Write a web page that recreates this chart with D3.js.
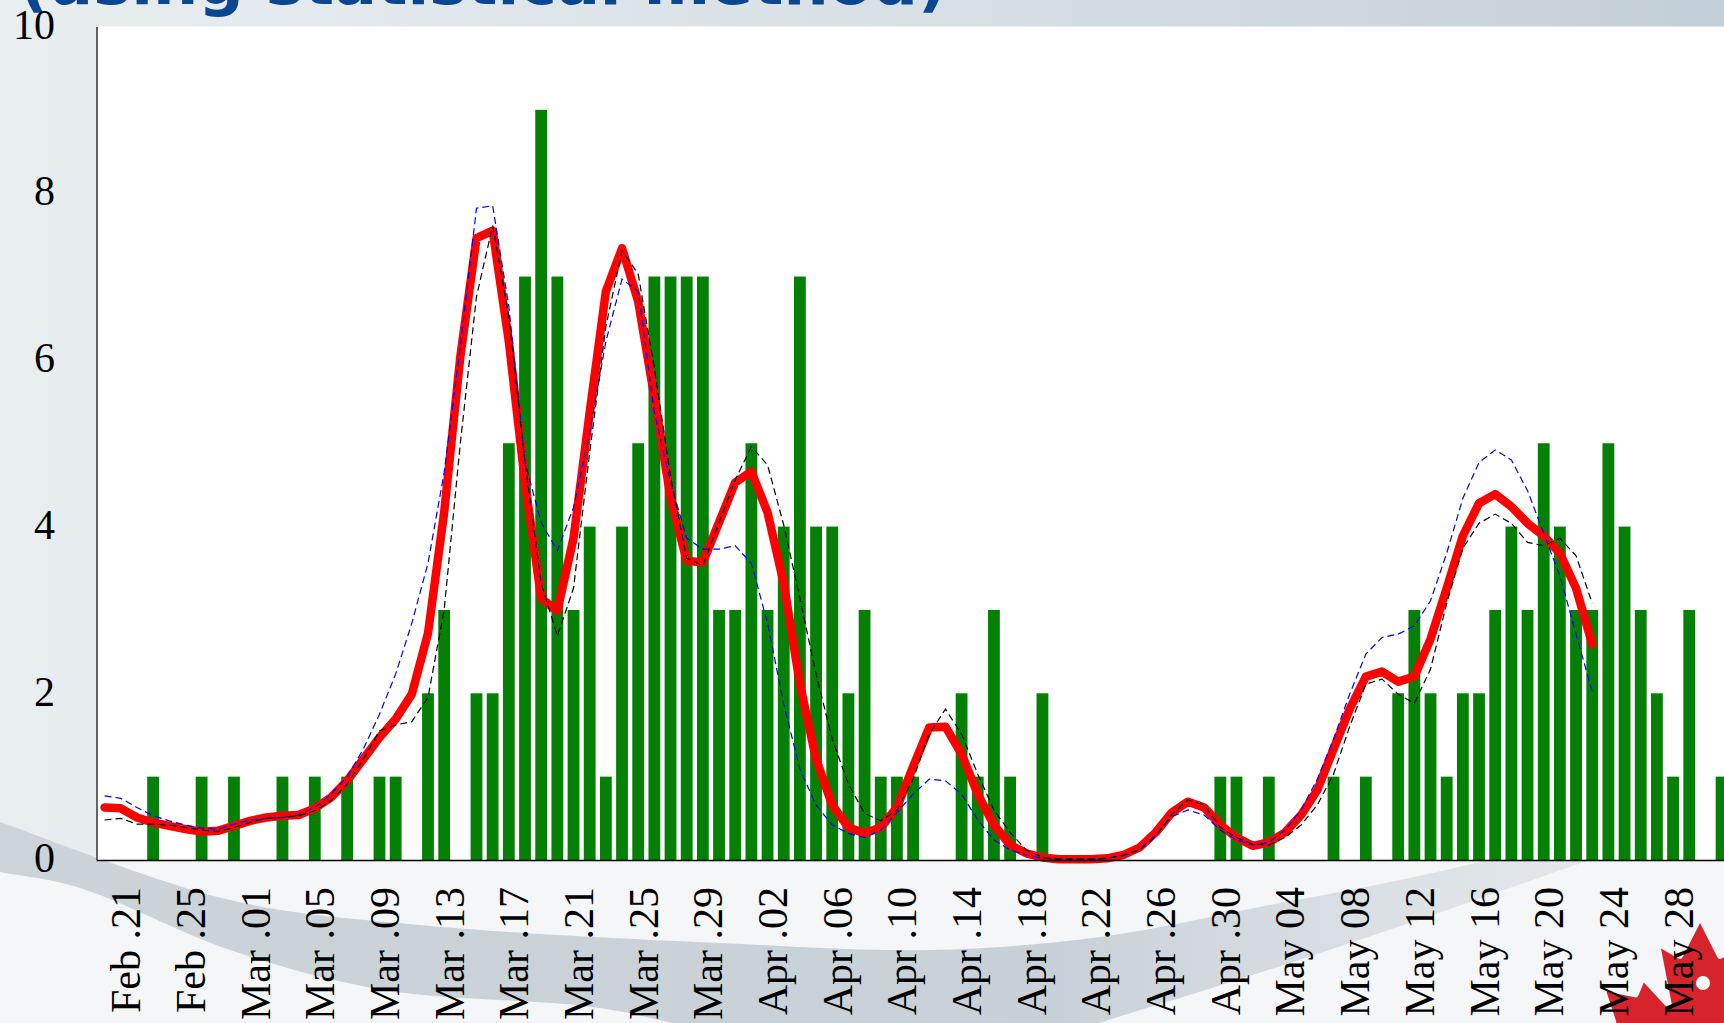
<!DOCTYPE html>
<html>
<head>
<meta charset="utf-8">
<script src="https://cdn.jsdelivr.net/npm/d3@7"></script>
<style>
html,body{margin:0;padding:0;overflow:hidden;background:#ffffff;}
</style>
</head>
<body>
<svg id="chart" width="1724" height="1023"></svg>
<script>
// ---------------- DATA ----------------
// daily counts, day index 0..100 (bars)
const dailyCounts = [
  0,0,0,1,0,0,1,0,1,0,
  0,1,0,1,0,1,0,1,1,0,
  2,3,0,2,2,5,7,9,7,3,
  4,1,4,5,7,7,7,7,3,3,
  5,3,4,7,4,4,2,3,1,1,
  1,0,0,2,1,3,1,0,2,0,
  0,0,0,0,0,0,0,0,0,1,
  1,0,1,0,0,0,1,0,1,0,
  2,3,2,1,2,2,3,4,3,5,
  4,3,3,5,4,3,2,1,3,0,
  1
];
// smoothed estimate (red, thick), day index 0..92
const estimate = [
  0.63,0.62,0.51,0.45,0.41,0.37,0.34,0.35,0.41,0.47,
  0.51,0.53,0.54,0.62,0.75,0.95,1.21,1.47,1.69,1.99,
  2.72,4.17,6.04,7.46,7.55,6.22,4.53,3.14,2.99,3.86,
  5.37,6.82,7.34,6.70,5.55,4.35,3.59,3.57,4.05,4.53,
  4.66,4.17,3.32,2.11,1.21,0.66,0.39,0.32,0.39,0.63,
  1.12,1.59,1.60,1.27,0.79,0.42,0.18,0.08,0.03,0.01,
  0.01,0.01,0.02,0.06,0.15,0.33,0.57,0.70,0.63,0.42,
  0.27,0.17,0.21,0.33,0.54,0.84,1.33,1.81,2.20,2.26,
  2.14,2.20,2.65,3.26,3.89,4.28,4.39,4.24,4.04,3.89,
  3.68,3.26,2.59
];
// blue dashed series
const seriesBlue = [
  0.77,0.74,0.63,0.53,0.47,0.42,0.38,0.37,0.43,0.48,
  0.50,0.51,0.54,0.63,0.79,1.00,1.33,1.75,2.23,2.84,
  3.56,4.65,6.16,7.82,7.85,6.64,4.77,4.05,3.71,4.23,
  5.13,6.22,6.97,6.82,5.37,4.53,3.86,3.73,3.73,3.77,
  3.56,2.84,1.87,1.09,0.66,0.42,0.32,0.27,0.36,0.57,
  0.79,0.97,0.95,0.79,0.48,0.24,0.12,0.06,0.02,0.01,
  0.01,0.01,0.02,0.05,0.13,0.30,0.52,0.60,0.54,0.36,
  0.24,0.18,0.21,0.36,0.60,0.97,1.45,1.99,2.47,2.67,
  2.71,2.81,3.11,3.68,4.34,4.77,4.92,4.80,4.43,3.92,
  3.41,2.71,2.02
];
// black dashed series
const seriesBlack = [
  0.48,0.50,0.43,0.43,0.42,0.39,0.36,0.34,0.39,0.45,
  0.50,0.51,0.53,0.59,0.71,0.91,1.21,1.55,1.62,1.66,
  1.95,3.00,5.00,6.76,7.61,6.52,4.77,3.32,2.69,3.26,
  4.89,6.40,7.31,7.03,5.90,4.60,3.62,3.53,4.05,4.56,
  4.96,4.74,4.02,3.14,2.23,1.45,0.91,0.56,0.47,0.60,
  0.97,1.51,1.81,1.51,1.03,0.60,0.33,0.12,0.03,0.01,
  0.01,0.01,0.02,0.06,0.12,0.28,0.55,0.72,0.66,0.39,
  0.27,0.19,0.18,0.27,0.42,0.66,1.03,1.60,2.11,2.17,
  1.99,1.88,2.29,3.08,3.74,4.04,4.15,4.04,3.81,3.77,
  3.86,3.65,3.08
];
const tickIndex = [1,5,9,13,17,21,25,29,33,37,41,45,49,53,57,61,65,69,73,77,81,85,89,93,97];
const tickLabels = ["Feb .21","Feb .25","Mar .01","Mar .05","Mar .09","Mar .13","Mar .17","Mar .21",
  "Mar .25","Mar .29","Apr .02","Apr .06","Apr .10","Apr .14","Apr .18","Apr .22","Apr .26",
  "Apr .30","May 04","May 08","May 12","May 16","May 20","May 24","May 28"];
const yTicks = [0,2,4,6,8,10];
const titleText = "(using statistical method)";

// ---------------- LAYOUT ----------------
const W = 1724, H = 1023;
const svg = d3.select("#chart");
const x = d3.scaleLinear().domain([-0.5, 100.3]).range([96.5, 96.5 + 100.8 * 16.17]);
const y = d3.scaleLinear().domain([0, 10]).range([860, 26.5]);

// ---------------- BACKGROUND ----------------
const defs = svg.append("defs");
const bg = defs.append("linearGradient").attr("id","bg").attr("x1",0).attr("x2",1).attr("y1",0).attr("y2",0);
bg.append("stop").attr("offset","0").attr("stop-color","#e9eef0");
bg.append("stop").attr("offset","0.5").attr("stop-color","#d9e1e6");
bg.append("stop").attr("offset","1").attr("stop-color","#c3cfd8");
const bandG = defs.append("linearGradient").attr("id","band").attr("x1",0).attr("x2",1).attr("y1",0).attr("y2",0);
bandG.append("stop").attr("offset","0").attr("stop-color","#ccd4da");
bandG.append("stop").attr("offset","0.6").attr("stop-color","#c9d1d8");
bandG.append("stop").attr("offset","0.8").attr("stop-color","#dde2e6");
bandG.append("stop").attr("offset","1").attr("stop-color","#eceef0");

svg.append("rect").attr("width",W).attr("height",H).attr("fill","url(#bg)");
svg.append("rect").attr("x",0).attr("y",860).attr("width",W).attr("height",H-860).attr("fill","#f5f6f7");

const bandPts = [
  [-20,815],[0,822],[230,900],[420,925],[720,943],[930,950],[1100,937],[1280,903],[1400,880],[1550,845],[1724,800],[1780,785],
  [1780,800],[1724,815],[1590,860],[1380,933],[1150,1007],[950,1060],[750,1040],[600,1008],[383,990],[230,950],[77,887],[0,872],[-20,868]
];
svg.append("path")
  .attr("d", d3.line().curve(d3.curveCatmullRomClosed)(bandPts))
  .attr("fill","url(#band)");

// title (mostly above the visible area)
svg.append("text")
  .attr("x",19).attr("y",4)
  .attr("font-family","'DejaVu Sans', Verdana, sans-serif")
  .attr("font-weight","bold")
  .attr("font-size",62)
  .attr("textLength",928).attr("lengthAdjust","spacingAndGlyphs")
  .attr("fill","#0b4690")
  .text(titleText);

// maple leaf decoration
const leaf = svg.append("g").attr("transform","translate(1700,1027) scale(0.052)");
leaf.append("path")
  .attr("fill","#d7232b")
  .attr("d","m-90 2030 45-863a95 95 0 0 0-111-98l-859 151 116-320a65 65 0 0 0-20-73l-941-762 212-99a65 65 0 0 0 34-79l-186-572 542 115a65 65 0 0 0 73-38l105-247 423 454a65 65 0 0 0 111-57l-204-1052 327 189a65 65 0 0 0 91-27l332-652 332 652a65 65 0 0 0 91 27l327-189-204 1052a65 65 0 0 0 111 57l423-454 105 247a65 65 0 0 0 73 38l542-115-186 572a65 65 0 0 0 34 79l212 99-941 762a65 65 0 0 0-20 73l116 320-859-151a95 95 0 0 0-111 98l45 863z");
svg.append("circle").attr("cx",1703).attr("cy",983).attr("r",7).attr("fill","#ffffff");

// ---------------- PLOT AREA ----------------
svg.append("rect")
  .attr("x", x(-0.5)).attr("y", y(10))
  .attr("width", W - x(-0.5) + 10).attr("height", y(0) - y(10))
  .attr("fill","#ffffff");

const bw = 0.73 * (x(1) - x(0));
svg.append("g").selectAll("rect")
  .data(dailyCounts.map((v,i)=>({i,v})).filter(d=>d.v>0))
  .join("rect")
  .attr("x", d => x(d.i) - bw/2)
  .attr("y", d => y(d.v))
  .attr("width", bw)
  .attr("height", d => y(0) - y(d.v))
  .attr("fill","#048004");

const line = d3.line().x((d,i)=>x(i)).y(d=>y(d));
svg.append("path").attr("d", line(estimate))
  .attr("fill","none").attr("stroke","#ff0000").attr("stroke-width",8.5)
  .attr("stroke-linejoin","round").attr("stroke-linecap","round");
svg.append("path").attr("d", line(seriesBlue))
  .attr("fill","none").attr("stroke","#0000ff").attr("stroke-width",1.2)
  .attr("stroke-dasharray","7,4");
svg.append("path").attr("d", line(seriesBlack))
  .attr("fill","none").attr("stroke","#000000").attr("stroke-width",1.2)
  .attr("stroke-dasharray","7,4");

// ---------------- AXES ----------------
const serif = "'Liberation Serif','Times New Roman',serif";
const yAxis = svg.append("g").attr("transform",`translate(${x(-0.5)},0)`)
  .call(d3.axisLeft(y).tickValues(yTicks).tickSize(0).tickSizeOuter(0).tickPadding(41.5).tickFormat(d3.format("d")));
yAxis.select(".domain").attr("stroke","#000").attr("stroke-width",1.2);
yAxis.selectAll("text").attr("font-family",serif).attr("font-size",42).attr("fill","#000").attr("dy","0.28em");

const xAxis = svg.append("g").attr("transform",`translate(0,${y(0)})`)
  .call(d3.axisBottom(x).tickValues(tickIndex).tickSize(0).tickSizeOuter(0).tickFormat((d,i)=>tickLabels[i]));
xAxis.select(".domain").attr("stroke","#000").attr("stroke-width",1.5);
xAxis.selectAll("text")
  .attr("font-family",serif).attr("font-size",42).attr("fill","#000")
  .attr("transform","rotate(-90)")
  .attr("text-anchor","end")
  .attr("x",-27).attr("y",0).attr("dy","19px");
</script>
</body>
</html>
